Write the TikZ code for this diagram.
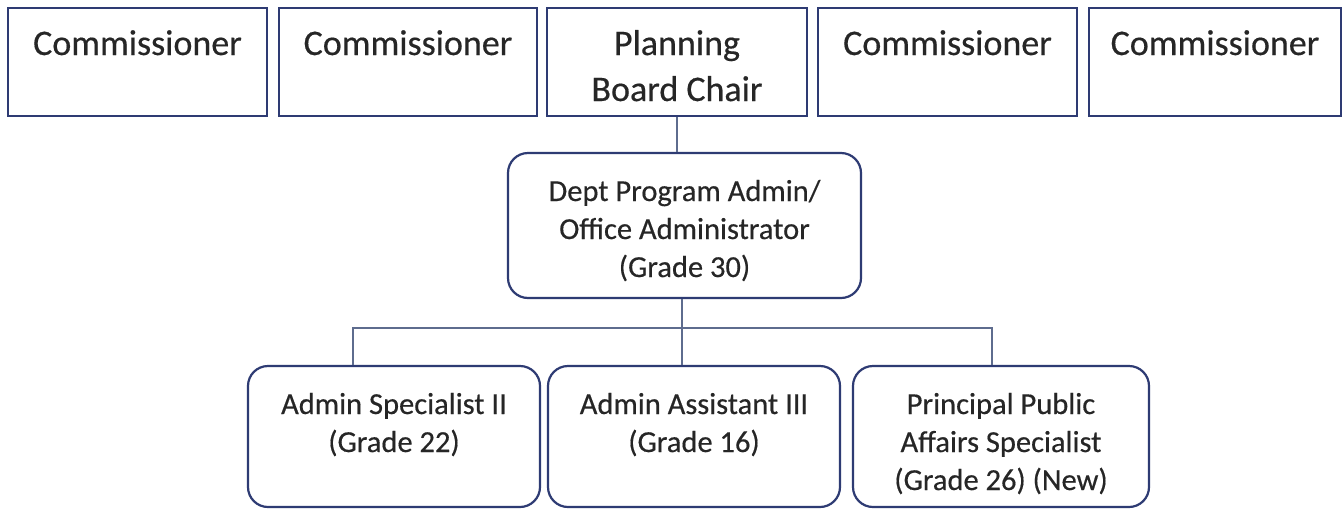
\documentclass[tikz,border=0pt]{standalone}
\usepackage{fontspec}
\setmainfont{Carlito}
\newfontface\scanfont{Carlito}[FakeBold=0.4]
\definecolor{boxblue}{HTML}{2E3B73}
\definecolor{connblue}{HTML}{5E6C8E}
\definecolor{txt}{HTML}{262626}
\begin{document}
\begin{tikzpicture}[x=1pt,y=-1pt,
  topbox/.style={draw=boxblue, line width=2.2pt, fill=white, inner sep=0pt, minimum height=108pt},
  roundbox/.style={draw=boxblue, line width=2.2pt, fill=white, inner sep=0pt, rounded corners=20pt},
  toptext/.style={anchor=base, inner sep=0pt, text=txt, font=\scanfont\fontsize{36}{42}\selectfont},
  bodytext/.style={anchor=base, inner sep=0pt, text=txt, font=\scanfont\fontsize{30.5}{37}\selectfont},
  conn/.style={draw=connblue, line width=1.4pt}]
\useasboundingbox (0,0) rectangle (1343,509);
\fill[white] (0,0) rectangle (1343,509);

% top row boxes
\node[topbox, minimum width=259pt] (c1) at (137.5,62) {};
\node[topbox, minimum width=258pt] (c2) at (408,62) {};
\node[topbox, minimum width=260pt] (pb) at (677,62) {};
\node[topbox, minimum width=259pt] (c4) at (947.5,62) {};
\node[topbox, minimum width=252pt] (c5) at (1215,62) {};

% middle and bottom boxes
\node[roundbox, minimum width=353pt, minimum height=145pt] (mid) at (684.5,225.5) {};
\node[roundbox, minimum width=292pt, minimum height=141pt] (ba) at (394,436.5) {};
\node[roundbox, minimum width=292pt, minimum height=141pt] (bb) at (694,436.5) {};
\node[roundbox, minimum width=296pt, minimum height=141pt] (bc) at (1001,436.5) {};

% connectors
\coordinate (bus) at (682,328);
\coordinate (busL) at (353,328);
\coordinate (busR) at (992,328);
\draw[conn] (pb.south) -- (pb.south |- mid.north);
\draw[conn] (mid.south -| bus) -- (bus |- bb.north);
\draw[conn] (busL |- ba.north) -- (busL) -- (busR) -- (busR |- bc.north);

% texts top
\node[toptext] (c1t) at (137.5,55) {Commissioner};
\node[toptext] (c2t) at (408,55) {Commissioner};
\node[toptext] (pbt1) at (677,55) {Planning};
\node[toptext] (pbt2) at (677,101) {Board Chair};
\node[toptext] (c4t) at (947.5,55) {Commissioner};
\node[toptext] (c5t) at (1215,55) {Commissioner};

% middle text
\node[bodytext] (mt1) at (684.5,201) {Dept Program Admin/};
\node[bodytext] (mt2) at (684.5,239) {Office Administrator};
\node[bodytext] (mt3) at (684.5,277) {(Grade 30)};

% bottom texts
\node[bodytext] (bat1) at (394,414) {Admin Specialist II};
\node[bodytext] (bat2) at (394,452) {(Grade 22)};
\node[bodytext] (bbt1) at (694,414) {Admin Assistant III};
\node[bodytext] (bbt2) at (694,452) {(Grade 16)};
\node[bodytext] (bct1) at (1001,414) {Principal Public};
\node[bodytext] (bct2) at (1001,452) {Affairs Specialist};
\node[bodytext] (bct3) at (1001,490) {(Grade 26) (New)};
\end{tikzpicture}
\end{document}
